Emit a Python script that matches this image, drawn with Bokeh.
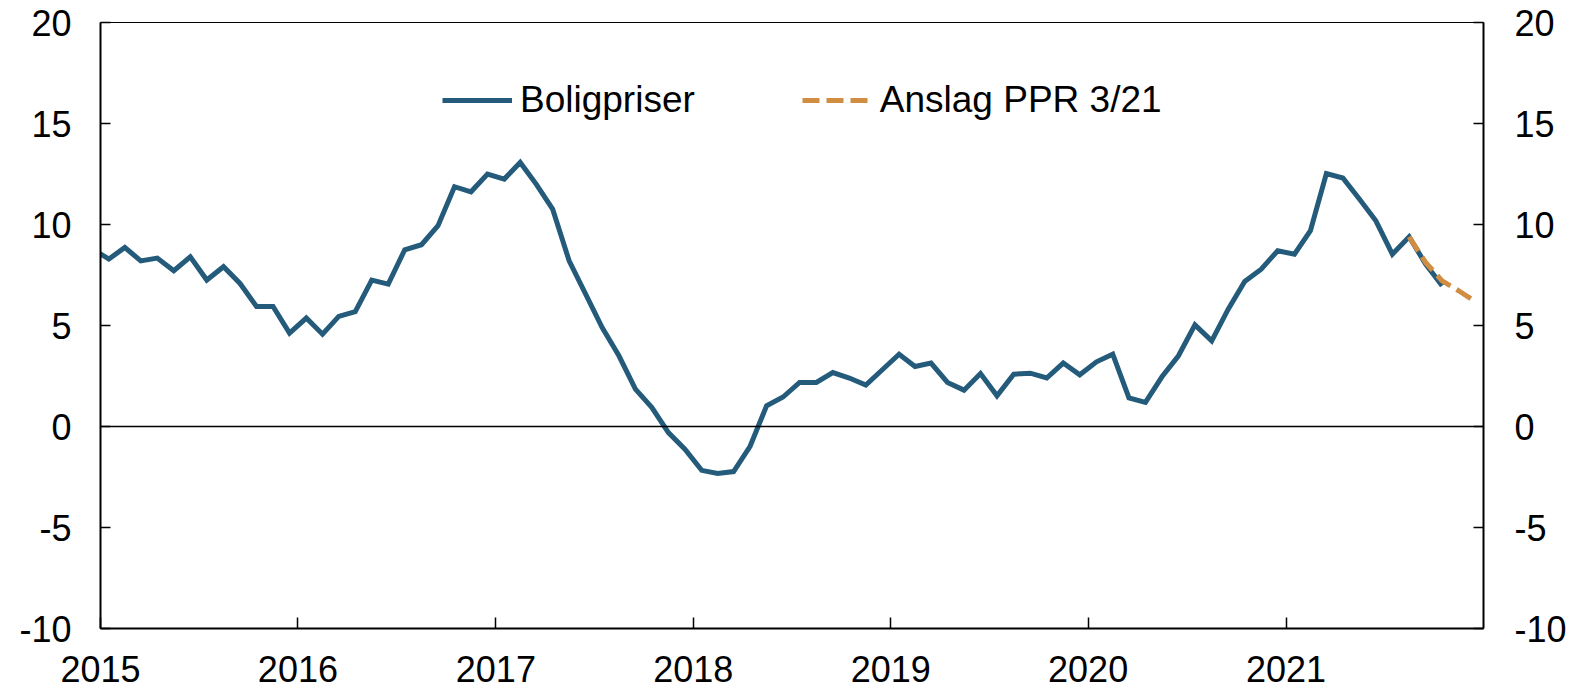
import pandas as pd
from bokeh.plotting import figure
from bokeh.models import (Range1d, LinearAxis, FixedTicker, Span, Legend, LegendItem,
                          DatetimeTickFormatter, ColumnDataSource)
from bokeh.embed import file_html
from bokeh.resources import INLINE

# ---- data -------------------------------------------------------------
# monthly house price growth (12-month, %), Dec 2014 .. Oct 2021
bolig_start = "2014-12-01"
boligpriser = [
    8.8,                                                                      # Dec 2014
    8.29, 8.86, 8.20, 8.34, 7.71, 8.40, 7.25, 7.91, 7.08, 5.94, 5.94, 4.62,   # 2015
    5.37, 4.57, 5.45, 5.69, 7.25, 7.05, 8.75, 9.00, 9.94, 11.87, 11.62, 12.50,  # 2016
    12.25, 13.07, 12.00, 10.76, 8.20, 6.55, 4.90, 3.50, 1.85, 0.94, -0.30, -1.12,  # 2017
    -2.17, -2.33, -2.23, -0.98, 1.02, 1.46, 2.18, 2.18, 2.67, 2.40, 2.05, 2.81,  # 2018
    3.58, 2.97, 3.14, 2.18, 1.80, 2.62, 1.52, 2.59, 2.64, 2.40, 3.14, 2.56,   # 2019
    3.20, 3.58, 1.42, 1.19, 2.46, 3.50, 5.03, 4.24, 5.81, 7.18, 7.79, 8.70,   # 2020
    8.53, 9.69, 12.52, 12.30, 11.26, 10.18, 8.53, 9.39, 8.04, 6.97,          # 2021
]
# forecast PPR 3/21, Aug 2021 .. Dec 2021
anslag_start = "2021-08-01"
anslag = [9.39, 8.12, 7.21, 6.72, 6.19]

year_ticks = [2015, 2016, 2017, 2018, 2019, 2020, 2021]
y_ticks = [-10, -5, 0, 5, 10, 15, 20]
y_tick_labels = {-10: "-10", -5: "-5", 0: "0", 5: "5", 10: "10", 15: "15", 20: "20"}

label_bolig = "Boligpriser"
label_anslag = "Anslag PPR 3/21"

BLUE = "#245b7b"
ORANGE = "#d18e42"
FONT = "Liberation Sans"


def mid_month(start, n):
    s = pd.date_range(start, periods=n + 1, freq="MS")
    return s[:-1] + (s[1:] - s[:-1]) / 2


src_b = ColumnDataSource(dict(x=mid_month(bolig_start, len(boligpriser)), y=boligpriser))
src_a = ColumnDataSource(dict(x=mid_month(anslag_start, len(anslag)), y=anslag))

# ---- figure -----------------------------------------------------------
W, H = 1570, 688
p = figure(width=W, height=H, output_backend="svg", toolbar_location=None,
           x_axis_type="datetime",
           x_range=Range1d(pd.Timestamp("2015-01-01"), pd.Timestamp("2022-01-01")),
           y_range=Range1d(-10, 20),
           min_border_left=100, min_border_right=87, min_border_top=22, min_border_bottom=60)
p.xgrid.visible = False
p.ygrid.visible = False
p.outline_line_color = "black"
p.outline_line_width = 1
p.background_fill_color = "white"
p.border_fill_color = "white"

yticker = FixedTicker(ticks=y_ticks)
xticker = FixedTicker(ticks=[pd.Timestamp(f"{y}-01-01").value / 1e6 for y in year_ticks])


def style_axis(ax):
    ax.axis_line_color = "black"
    ax.axis_line_width = 2
    ax.major_tick_line_color = "black"
    ax.major_tick_line_width = 1.5
    ax.major_tick_in = 10
    ax.major_tick_out = 0
    ax.minor_tick_line_color = None
    ax.major_label_text_font = FONT
    ax.major_label_text_font_size = "36px"
    ax.major_label_text_color = "black"


p.yaxis.ticker = yticker
style_axis(p.yaxis[0])
p.yaxis.major_label_standoff = 29
p.yaxis.major_label_overrides = y_tick_labels

ry = LinearAxis(ticker=yticker)
style_axis(ry)
ry.major_label_standoff = 31
ry.major_label_overrides = y_tick_labels
p.add_layout(ry, "right")

p.xaxis.ticker = xticker
p.xaxis.formatter = DatetimeTickFormatter(years="%Y", months="%Y", days="%Y")
style_axis(p.xaxis[0])
p.xaxis.major_tick_in = 11
p.xaxis.major_label_standoff = 27

p.add_layout(Span(location=0, dimension="width", line_color="black", line_width=1.5))

r1 = p.line("x", "y", source=src_b, line_color=BLUE, line_width=5, line_join="miter")
r2 = p.line("x", "y", source=src_a, line_color=ORANGE, line_width=5, line_dash="17 7")

legend = Legend(items=[LegendItem(label=label_bolig, renderers=[r1]),
                       LegendItem(label=label_anslag, renderers=[r2])],
                orientation="horizontal", location=(342, 507))
legend.border_line_alpha = 0
legend.background_fill_alpha = 0
legend.padding = 0
legend.margin = 0
legend.spacing = 107
legend.glyph_width = 70
legend.glyph_height = 30
legend.label_standoff = 8
legend.label_text_font = FONT
legend.label_text_font_size = "37px"
legend.label_text_color = "black"
p.add_layout(legend)

open("out.html", "w").write(file_html(p, INLINE))
